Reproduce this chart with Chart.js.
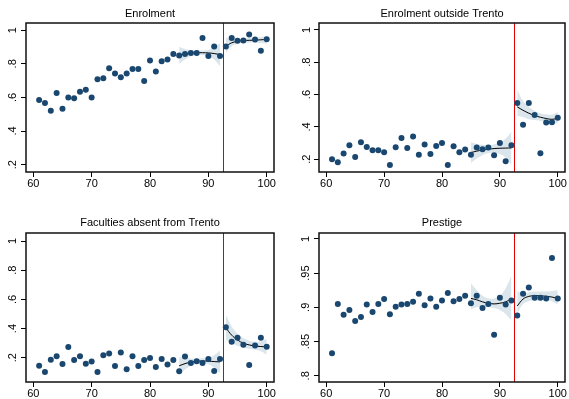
<!DOCTYPE html>
<html>
<head>
<meta charset="utf-8">
<script src="https://cdn.jsdelivr.net/npm/chart.js@4.4.1/dist/chart.umd.min.js"></script>
<style>
  body { margin: 0; background: #fff; width: 569px; height: 399px; position: relative; overflow: hidden; }
  canvas { position: absolute; }
</style>
</head>
<body>
<canvas id="c1" width="284" height="200" style="left:0;top:0"></canvas>
<canvas id="c2" width="284" height="200" style="left:285px;top:0"></canvas>
<canvas id="c3" width="284" height="199" style="left:0;top:200px"></canvas>
<canvas id="c4" width="284" height="199" style="left:285px;top:200px"></canvas>
<script>
// running variable (x) and cutoff
const years = [61, 62, 63, 64, 65, 66, 67, 68, 69, 70, 71, 72, 73, 74, 75, 76, 77, 78, 79, 80,
  81, 82, 83, 84, 85, 86, 87, 88, 89, 90, 91, 92, 93, 94, 95, 96, 97, 98, 99, 100];
const cutoff = 92.5;
const fitX1 = [85, 86, 87, 88, 89, 90, 91, 92];
const fitX2 = [93, 94, 95, 96, 97, 98, 99, 100];
const xTicks = [60, 70, 80, 90, 100];
const yTicksShare = [0.2, 0.4, 0.6, 0.8, 1];
const yTicksPrestige = [0.8, 0.85, 0.9, 0.95, 1];

// Enrolment
const enrolment = [0.585, 0.567, 0.52, 0.627, 0.532, 0.60, 0.595, 0.633, 0.646, 0.60,
  0.708, 0.714, 0.773, 0.743, 0.72, 0.743, 0.769, 0.769, 0.698, 0.82,
  0.755, 0.816, 0.826, 0.858, 0.85, 0.858, 0.864, 0.864, 0.953, 0.846,
  0.903, 0.846, 0.903, 0.953, 0.937, 0.939, 0.974, 0.945, 0.878, 0.947];
const enrolmentFit1 = [0.852, 0.858, 0.863, 0.866, 0.866, 0.865, 0.861, 0.855];
const enrolmentLo1 = [0.800, 0.826, 0.845, 0.853, 0.853, 0.845, 0.825, 0.785];
const enrolmentHi1 = [0.902, 0.888, 0.880, 0.879, 0.879, 0.883, 0.895, 0.922];
const enrolmentFit2 = [0.905, 0.925, 0.934, 0.938, 0.940, 0.941, 0.943, 0.945];
const enrolmentLo2 = [0.865, 0.905, 0.920, 0.925, 0.926, 0.926, 0.924, 0.920];
const enrolmentHi2 = [0.955, 0.945, 0.948, 0.951, 0.954, 0.956, 0.960, 0.965];

// Enrolment outside Trento
const outside = [0.20, 0.181, 0.235, 0.287, 0.214, 0.305, 0.276, 0.256, 0.256, 0.243,
  0.165, 0.274, 0.332, 0.27, 0.34, 0.227, 0.291, 0.233, 0.282, 0.301,
  0.165, 0.28, 0.243, 0.26, 0.227, 0.272, 0.262, 0.272, 0.225, 0.301,
  0.188, 0.287, 0.548, 0.414, 0.548, 0.474, 0.237, 0.427, 0.429, 0.456];
const outsideFit1 = [0.241, 0.250, 0.257, 0.262, 0.266, 0.268, 0.269, 0.270];
const outsideLo1 = [0.177, 0.205, 0.225, 0.238, 0.240, 0.232, 0.210, 0.165];
const outsideHi1 = [0.305, 0.295, 0.289, 0.286, 0.292, 0.304, 0.328, 0.372];
const outsideFit2 = [0.524, 0.503, 0.485, 0.470, 0.460, 0.452, 0.447, 0.453];
const outsideLo2 = [0.468, 0.462, 0.448, 0.442, 0.437, 0.432, 0.427, 0.419];
const outsideHi2 = [0.630, 0.560, 0.525, 0.500, 0.485, 0.478, 0.476, 0.493];

// Faculties absent from Trento
const absent = [0.145, 0.102, 0.186, 0.211, 0.157, 0.273, 0.184, 0.211, 0.159, 0.175,
  0.102, 0.218, 0.23, 0.143, 0.236, 0.122, 0.211, 0.143, 0.184, 0.198,
  0.136, 0.191, 0.154, 0.184, 0.107, 0.209, 0.164, 0.177, 0.164, 0.191,
  0.109, 0.191, 0.41, 0.309, 0.337, 0.289, 0.15, 0.284, 0.337, 0.275];
const absentFit1 = [0.145, 0.160, 0.170, 0.176, 0.178, 0.177, 0.174, 0.172];
const absentLo1 = [0.087, 0.120, 0.145, 0.158, 0.160, 0.155, 0.130, 0.095];
const absentHi1 = [0.203, 0.200, 0.195, 0.194, 0.196, 0.200, 0.218, 0.250];
const absentFit2 = [0.405, 0.355, 0.322, 0.300, 0.288, 0.281, 0.277, 0.275];
const absentLo2 = [0.325, 0.300, 0.283, 0.270, 0.262, 0.255, 0.245, 0.222];
const absentHi2 = [0.495, 0.415, 0.365, 0.335, 0.316, 0.310, 0.312, 0.330];

// Prestige
const prestige = [0.833, 0.905, 0.889, 0.896, 0.880, 0.886, 0.904, 0.893, 0.905, 0.912,
  0.890, 0.901, 0.904, 0.905, 0.908, 0.920, 0.903, 0.913, 0.901, 0.910,
  0.921, 0.909, 0.912, 0.917, 0.906, 0.917, 0.899, 0.905, 0.860, 0.914,
  0.904, 0.910, 0.888, 0.920, 0.929, 0.914, 0.914, 0.913, 0.972, 0.913];
const prestigeFit1 = [0.913, 0.911, 0.908, 0.906, 0.905, 0.906, 0.908, 0.913];
const prestigeLo1 = [0.897, 0.900, 0.901, 0.900, 0.899, 0.896, 0.890, 0.881];
const prestigeHi1 = [0.935, 0.925, 0.917, 0.913, 0.913, 0.917, 0.928, 0.946];
const prestigeFit2 = [0.902, 0.912, 0.916, 0.917, 0.917, 0.916, 0.915, 0.913];
const prestigeLo2 = [0.891, 0.905, 0.909, 0.910, 0.910, 0.910, 0.909, 0.904];
const prestigeHi2 = [0.924, 0.920, 0.922, 0.923, 0.923, 0.923, 0.924, 0.925];

const NAVY = '#1a476f';
const BAND = '#dae5ec';

Chart.defaults.font.family = "'Liberation Sans', Arial, sans-serif";
Chart.defaults.font.size = 11;
Chart.defaults.color = '#000';

const pts = (xs, ys) => xs.map((x, i) => ({ x: x, y: ys[i] }));

// draws the box around the plot region and the cutoff line
const framePlugin = {
  id: 'frame',
  beforeDatasetsDraw(chart) {
    const { ctx, chartArea: a, scales } = chart;
    const px = Math.round(scales.x.getPixelForValue(cutoff)) + 0.5;
    ctx.save();
    ctx.strokeStyle = '#e00000';
    ctx.lineWidth = 1;
    ctx.beginPath();
    ctx.moveTo(px, a.top);
    ctx.lineTo(px, a.bottom);
    ctx.stroke();
    ctx.restore();
  },
  afterDraw(chart) {
    const { ctx, chartArea: a } = chart;
    ctx.save();
    ctx.strokeStyle = '#111';
    ctx.lineWidth = 1.5;
    ctx.strokeRect(a.left, a.top, a.right - a.left, a.bottom - a.top);
    ctx.restore();
  }
};

function makePanel(id, p) {
  const band = (lo, hi, xs) => [
    { type: 'line', data: pts(xs, lo), borderWidth: 0, pointRadius: 0, fill: false, tension: 0.4 },
    { type: 'line', data: pts(xs, hi), borderWidth: 0, pointRadius: 0, fill: '-1', backgroundColor: BAND, tension: 0.4 }
  ];
  const fit = (ys, xs) => ({ type: 'line', data: pts(xs, ys), borderColor: '#000', borderWidth: 1,
    pointRadius: 0, fill: false, tension: 0.4 });

  return new Chart(document.getElementById(id), {
    type: 'scatter',
    data: {
      datasets: [
        { data: pts(years, p.values), backgroundColor: NAVY, borderWidth: 0, pointRadius: 3 },
        fit(p.fit1, fitX1),
        fit(p.fit2, fitX2),
        ...band(p.lo1, p.hi1, fitX1),
        ...band(p.lo2, p.hi2, fitX2)
      ]
    },
    options: {
      responsive: false,
      animation: false,
      devicePixelRatio: 1,
      layout: { padding: { left: 0, right: p.padRight, top: 0, bottom: 0 } },
      plugins: {
        legend: { display: false },
        tooltip: { enabled: false },
        title: {
          display: true, text: p.title, fullSize: false, color: '#000',
          font: { size: 11, weight: 'normal' }, padding: p.titlePad
        }
      },
      scales: {
        x: {
          type: 'linear', min: 58.75, max: 101.25,
          afterBuildTicks: s => { s.ticks = xTicks.map(v => ({ value: v })); },
          afterFit: s => { s.height = p.xHeight; s.paddingLeft = 0; s.paddingRight = 0; },
          grid: { drawOnChartArea: false, tickLength: 5, color: '#000' },
          border: { display: false },
          ticks: { padding: 0, maxRotation: 0, color: '#000' }
        },
        y: {
          min: p.yMin, max: p.yMax,
          afterBuildTicks: s => { s.ticks = p.yTicks.map(v => ({ value: v })); },
          afterFit: s => { s.width = p.yWidth; s.paddingTop = 0; s.paddingBottom = 0; },
          grid: { drawOnChartArea: false, tickLength: 5, color: '#000' },
          border: { display: false },
          ticks: {
            minRotation: 90, maxRotation: 90, crossAlign: 'center', padding: p.labelPad, color: '#000',
            callback: v => String(+v.toFixed(2)).replace(/^0\./, '.')
          }
        }
      }
    },
    plugins: [framePlugin]
  });
}

const topPad = { top: 7, bottom: 2.8 };
const botPad = { top: 16.7, bottom: 3.1 };

makePanel('c1', { title: 'Enrolment', values: enrolment,
  fit1: enrolmentFit1, lo1: enrolmentLo1, hi1: enrolmentHi1,
  fit2: enrolmentFit2, lo2: enrolmentLo2, hi2: enrolmentHi2,
  yMin: 0.156, yMax: 1.043, yTicks: yTicksShare,
  yWidth: 26, padRight: 10, xHeight: 28, titlePad: topPad, labelPad: 3.5 });

makePanel('c2', { title: 'Enrolment outside Trento', values: outside,
  fit1: outsideFit1, lo1: outsideLo1, hi1: outsideHi1,
  fit2: outsideFit2, lo2: outsideLo2, hi2: outsideHi2,
  yMin: 0.121, yMax: 1.043, yTicks: yTicksShare,
  yWidth: 34, padRight: 2, xHeight: 28, titlePad: topPad, labelPad: 2.5 });

makePanel('c3', { title: 'Faculties absent from Trento', values: absent,
  fit1: absentFit1, lo1: absentLo1, hi1: absentHi1,
  fit2: absentFit2, lo2: absentLo2, hi2: absentHi2,
  yMin: 0.034, yMax: 1.055, yTicks: yTicksShare,
  yWidth: 26, padRight: 10, xHeight: 17, titlePad: botPad, labelPad: 3.5 });

makePanel('c4', { title: 'Prestige', values: prestige,
  fit1: prestigeFit1, lo1: prestigeLo1, hi1: prestigeHi1,
  fit2: prestigeFit2, lo2: prestigeLo2, hi2: prestigeHi2,
  yMin: 0.791, yMax: 1.0085, yTicks: yTicksPrestige,
  yWidth: 34, padRight: 2, xHeight: 17, titlePad: botPad, labelPad: 0.5 });
</script>
</body>
</html>
